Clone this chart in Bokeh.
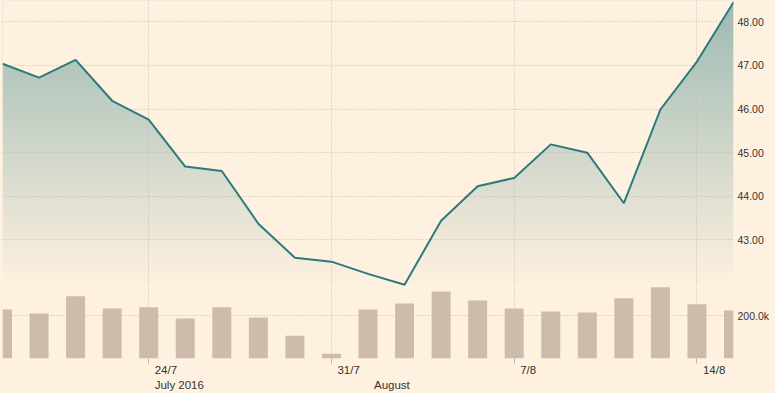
import numpy as np
from bokeh.plotting import figure
from bokeh.layouts import column
from bokeh.models import (Range1d, FixedTicker, NumeralTickFormatter,
                          ColumnDataSource, LinearAxis)
from bokeh.embed import file_html
from bokeh.resources import INLINE

# ---------------- data ----------------
dates = ["18/7", "19/7", "20/7", "21/7", "24/7", "25/7", "26/7", "27/7", "28/7",
         "31/7", "1/8", "2/8", "3/8", "4/8", "7/8", "8/8", "9/8", "10/8", "11/8",
         "14/8", "15/8"]
price = [47.04, 46.72, 47.13, 46.19, 45.76, 44.68, 44.58, 43.37, 42.59, 42.50,
         42.22, 41.97, 43.44, 44.23, 44.42, 45.19, 45.00, 43.84, 45.99, 47.09, 48.45]
volume = [228000, 209000, 290000, 233000, 239000, 186000, 239000, 191000, 106000,
          22000, 228000, 256000, 312000, 270000, 233000, 219000, 214000, 280000,
          331000, 252000, 223000]
week_ticks = ["24/7", "31/7", "7/8", "14/8"]
month_ticks = ["24/7", "1/8"]
month_names = ["July 2016", "August"]
price_ticks = [43, 44, 45, 46, 47, 48]
volume_ticks = [200000]

# ---------------- style ----------------
BG = "#fff1e0"
LINE = "#2b7a7c"
BAR = "#cdbcab"
GRID = "#c4bbb0"
TXT = "#333333"
FONT = "Liberation Sans"
LBL_SIZE = 11.5
FRAME_W, TOP_FH, BOT_FH = 731, 286, 72
N = len(dates)
PX_PER_DAY = FRAME_W / (N - 1)

# approximate Arial/Liberation Sans advance widths (em) used to left-align
# the date labels 6px to the right of their tick
ADV = {"/": 0.278, " ": 0.278, "J": 0.5, "u": 0.556, "l": 0.222, "y": 0.5,
       "A": 0.667, "g": 0.556, "s": 0.5, "t": 0.278}


def text_w(s):
    return sum(ADV.get(ch, 0.556) for ch in s) * LBL_SIZE


def left_pos(i, s, gap=6):
    return i + (gap + text_w(s) / 2) / PX_PER_DAY


idx = list(range(N))
tick_idx = [dates.index(d) for d in week_ticks]
month_idx = [dates.index(d) for d in month_ticks]
price_lo, price_hi = 41.93, 48.49


def style(p):
    p.background_fill_color = BG
    p.border_fill_color = BG
    p.outline_line_color = None
    p.min_border_left = 2
    p.min_border_right = 42
    p.min_border_top = 0


def grid_style(p):
    for g in (p.xgrid, p.ygrid):
        g.grid_line_color = GRID
        g.grid_line_dash = "1 2"
        g.grid_line_width = 1


# ---------------- price panel ----------------
pt = figure(frame_width=FRAME_W, frame_height=TOP_FH, output_backend="svg",
            toolbar_location=None,
            x_range=Range1d(0, N - 1), y_range=Range1d(price_lo, price_hi),
            x_axis_location=None, y_axis_location="right")
style(pt)
pt.min_border_bottom = 0

# vertical gradient (image) masked above the line
H = 300
t = np.linspace(0, 1, H)  # 0 bottom -> 1 top
alpha = 0.47 * t
bg = np.array([255, 241, 224], dtype=float)
col = np.array([45, 123, 126], dtype=float)
rgb = bg[None, :] * (1 - alpha[:, None]) + col[None, :] * alpha[:, None]
img = np.zeros((H, 1), dtype=np.uint32)
view = img.view(dtype=np.uint8).reshape((H, 1, 4))
for c in range(3):
    view[:, 0, c] = rgb[:, c].round().astype(np.uint8)
view[:, 0, 3] = 255
r_img = pt.image_rgba(image=[img], x=0, y=price_lo, dw=N - 1,
                      dh=price_hi - price_lo)
r_img.level = "image"

src = ColumnDataSource(dict(x=idx, price=price, top=[price_hi + 1] * N))
r_mask = pt.varea(x="x", y1="price", y2="top", source=src, fill_color=BG)
r_mask.level = "image"
pt.line(x="x", y="price", source=src, line_color=LINE, line_width=2)

pt.xgrid.ticker = FixedTicker(ticks=tick_idx)
pt.ygrid.ticker = FixedTicker(ticks=price_ticks)
grid_style(pt)
pt.yaxis.ticker = FixedTicker(ticks=price_ticks)
pt.yaxis.formatter = NumeralTickFormatter(format="0.00")

# ---------------- volume panel ----------------
pb = figure(frame_width=FRAME_W, frame_height=BOT_FH, output_backend="svg",
            toolbar_location=None,
            x_range=pt.x_range, y_range=Range1d(0, 335000),
            x_axis_location=None, y_axis_location="right")
style(pb)
pb.min_border_bottom = 0
pb.vbar(x=idx, top=volume, width=0.52, fill_color=BAR, line_color=None)
pb.xgrid.ticker = FixedTicker(ticks=tick_idx)
pb.ygrid.ticker = FixedTicker(ticks=volume_ticks)
grid_style(pb)
pb.yaxis.ticker = FixedTicker(ticks=volume_ticks)
pb.yaxis.formatter = NumeralTickFormatter(format="0.0a")

# week labels (tick marks drawn as minor ticks at the real dates)
wk_pos = [left_pos(i, s) for i, s in zip(tick_idx, week_ticks)]
xb = LinearAxis(ticker=FixedTicker(ticks=wk_pos, minor_ticks=tick_idx),
                major_label_overrides={p_: d for p_, d in zip(wk_pos, week_ticks)})
xb.major_tick_out = 5
xb.major_tick_in = 0
xb.major_tick_line_color = None
xb.minor_tick_out = 5
xb.minor_tick_in = 0
xb.minor_tick_line_color = "#bdb5aa"
xb.major_label_standoff = 0

# month labels
mo_pos = [left_pos(i, s) for i, s in zip(month_idx, month_names)]
xc = LinearAxis(ticker=FixedTicker(ticks=mo_pos),
                major_label_overrides={p_: m for p_, m in zip(mo_pos, month_names)})
xc.major_tick_line_color = None
xc.minor_tick_line_color = None
xc.major_tick_out = 0
xc.major_tick_in = 0
xc.major_label_standoff = 0

for ax in (xb, xc):
    ax.axis_line_color = None
    ax.major_label_text_font = FONT
    ax.major_label_text_font_size = f"{LBL_SIZE}px"
    ax.major_label_text_color = TXT
    pb.add_layout(ax, "below")

for p in (pt, pb):
    ya = p.yaxis[0]
    ya.axis_line_color = None
    ya.major_tick_line_color = None
    ya.minor_tick_line_color = None
    ya.major_tick_out = 0
    ya.major_tick_in = 0
    ya.minor_tick_out = 0
    ya.major_label_standoff = 4
    ya.major_label_text_font = FONT
    ya.major_label_text_font_size = "10.5px"
    ya.major_label_text_color = TXT

layout = column(pt, pb, spacing=0, styles={"background-color": BG})
html = file_html(layout, INLINE)
open("out.html", "w").write(html)
